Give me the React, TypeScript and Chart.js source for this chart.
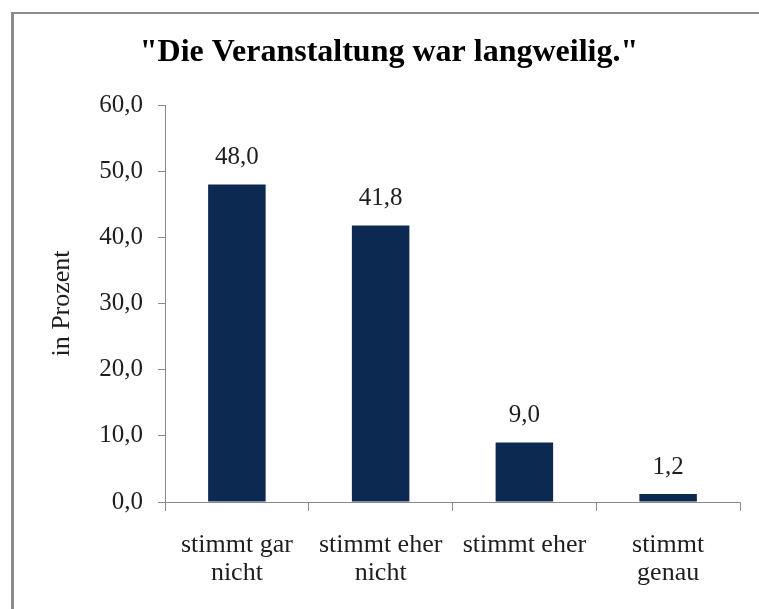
import React, { useEffect, useRef } from "react";
import { Chart, registerables } from "chart.js";

Chart.register(...registerables);

const TITLE = '"Die Veranstaltung war langweilig."';
const Y_TITLE = "in Prozent";
const CATEGORIES: (string | string[])[] = [
  ["stimmt gar", "nicht"],
  ["stimmt eher", "nicht"],
  "stimmt eher",
  ["stimmt", "genau"],
];
const VALUES = [48.0, 41.8, 9.0, 1.2];
const Y_MIN = 0;
const Y_MAX = 60;
const Y_STEP = 10;

const BAR_COLOR = "#0b2951";
const AXIS_COLOR = "#8a8a8a";
const TEXT_COLOR = "#1e1e1e";
const SERIF = "'Liberation Serif', 'Times New Roman', serif";

const fmt = (v: number) => v.toFixed(1).replace(".", ",");

const framePlugin = {
  id: "frame",
  beforeDraw(chart: any) {
    const ctx = chart.ctx;
    ctx.save();
    ctx.fillStyle = "#ffffff";
    ctx.fillRect(0, 0, chart.width, chart.height);
    ctx.fillStyle = "#8c8c8c";
    ctx.fillRect(11, 12, 3, chart.height - 12);
    ctx.fillRect(11, 12, chart.width - 11, 2);
    ctx.restore();
  },
};

const valueLabelPlugin = {
  id: "valueLabels",
  afterDatasetsDraw(chart: any) {
    const ctx = chart.ctx;
    ctx.save();
    ctx.font = `25px ${SERIF}`;
    ctx.fillStyle = TEXT_COLOR;
    ctx.textAlign = "center";
    ctx.textBaseline = "alphabetic";
    const meta = chart.getDatasetMeta(0);
    meta.data.forEach((bar: any, i: number) => {
      const v = chart.data.datasets[0].data[i] as number;
      ctx.fillText(fmt(v), bar.x, bar.y - 20);
    });
    ctx.restore();
  },
};

export default function App() {
  const ref = useRef<HTMLCanvasElement | null>(null);

  useEffect(() => {
    if (!ref.current) return;
    const chart = new Chart(ref.current, {
      type: "bar",
      data: {
        labels: CATEGORIES,
        datasets: [
          {
            data: VALUES,
            backgroundColor: BAR_COLOR,
            borderWidth: 0,
            barPercentage: 0.4,
            categoryPercentage: 1,
          },
        ],
      },
      plugins: [framePlugin, valueLabelPlugin],
      options: {
        responsive: false,
        animation: false,
        devicePixelRatio: 1,
        layout: { padding: { left: 38, right: 19, top: 0, bottom: 0 } },
        plugins: {
          legend: { display: false },
          tooltip: { enabled: false },
          title: {
            display: true,
            text: TITLE,
            color: "#000000",
            font: { family: SERIF, size: 32, weight: "bold", lineHeight: 1.2 },
            padding: { top: 34, bottom: 32.6 },
          },
        },
        scales: {
          x: {
            grid: {
              display: true,
              offset: true,
              drawOnChartArea: false,
              drawTicks: true,
              tickLength: 9,
              color: AXIS_COLOR,
            },
            border: { display: true, color: AXIS_COLOR, width: 1 },
            ticks: {
              color: TEXT_COLOR,
              font: { family: SERIF, size: 26, lineHeight: 1.08 },
              padding: 20,
              maxRotation: 0,
              autoSkip: false,
            },
            afterFit(scale: any) {
              scale.height = 107;
            },
          },
          y: {
            min: Y_MIN,
            max: Y_MAX,
            grid: {
              display: true,
              drawOnChartArea: false,
              drawTicks: true,
              tickLength: 7,
              color: AXIS_COLOR,
            },
            border: { display: true, color: AXIS_COLOR, width: 1 },
            ticks: {
              stepSize: Y_STEP,
              color: TEXT_COLOR,
              font: { family: SERIF, size: 25 },
              padding: 15,
              callback: (v: any) => fmt(Number(v)),
            },
            title: {
              display: true,
              text: Y_TITLE,
              color: TEXT_COLOR,
              font: { family: SERIF, size: 26, lineHeight: 1.2 },
              padding: { top: 9, bottom: 0 },
            },
            afterFit(scale: any) {
              scale.width = 127;
            },
          },
        },
      },
    });
    return () => chart.destroy();
  }, []);

  return (
    <div style={{ position: "absolute", left: 0, top: 0, width: 759, height: 609 }}>
      <canvas ref={ref} width={759} height={609} />
    </div>
  );
}
